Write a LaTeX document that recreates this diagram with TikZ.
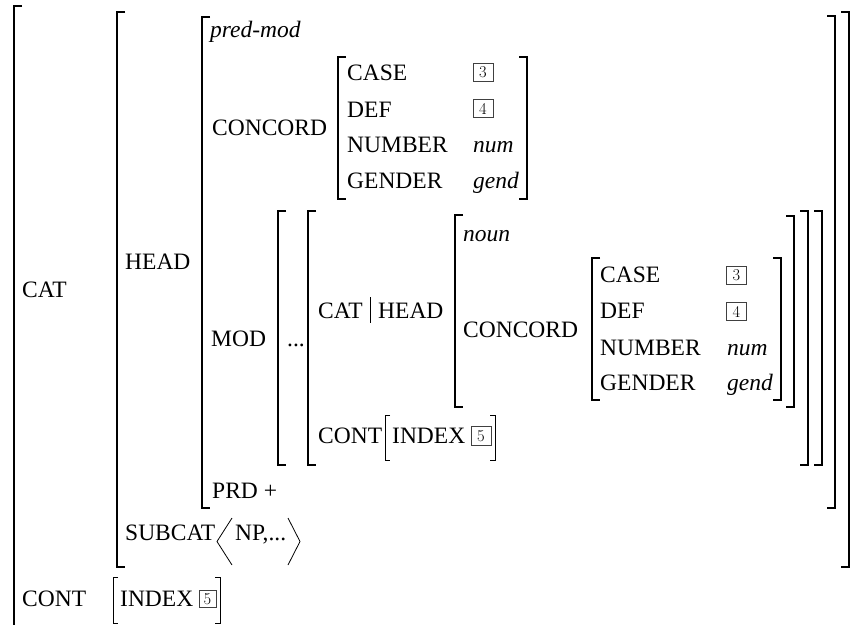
\documentclass[tikz,border=0pt]{standalone}
\usepackage{fontspec}
\newfontfamily\tms{Liberation Serif}
\begin{document}
\begin{tikzpicture}[x=1pt,y=-1pt,
  lbl/.style={font=\tms\fontsize{23.5}{28}\selectfont, inner sep=0pt, anchor=base west},
  itl/.style={lbl, font=\tms\itshape\fontsize{23.5}{28}\selectfont},
  tag/.style={draw=black!75, line width=1pt, inner sep=0pt, minimum width=20pt, minimum height=18.5pt, font=\rmfamily\fontsize{16.5}{16.5}\selectfont},
  brk/.style={line width=1.6pt},
  tbrk/.style={line width=0.9pt},
  ang/.style={line width=0.8pt}]
\useasboundingbox (0,0) rectangle (853,625);
% brackets
\draw[brk] (22,6) -- (14,6) -- (14,625);
\draw[brk] (125,12) -- (117,12) -- (117,567) -- (125,567);
\draw[brk] (841,12) -- (849,12) -- (849,567) -- (841,567);
\draw[brk] (210,17) -- (202,17) -- (202,508) -- (210,508);
\draw[brk] (827,16) -- (835,16) -- (835,508) -- (827,508);
\draw[brk] (346,57) -- (338,57) -- (338,199) -- (346,199);
\draw[brk] (519,57) -- (527,57) -- (527,199) -- (519,199);
\draw[brk] (286,211) -- (278,211) -- (278,465) -- (286,465);
\draw[brk] (814,211) -- (822,211) -- (822,465) -- (814,465);
\draw[brk] (316,211) -- (308,211) -- (308,465) -- (316,465);
\draw[brk] (800,211) -- (808,211) -- (808,465) -- (800,465);
\draw[brk] (463,215) -- (455,215) -- (455,407) -- (463,407);
\draw[brk] (786,216) -- (794,216) -- (794,407) -- (786,407);
\draw[brk] (600,258) -- (592,258) -- (592,400) -- (600,400);
\draw[brk] (773,258) -- (781,258) -- (781,400) -- (773,400);
\draw[tbrk] (390,415) -- (385,415) -- (385,460) -- (390,460);
\draw[tbrk] (490,415) -- (495,415) -- (495,460) -- (490,460);
\draw[tbrk] (118,577) -- (113,577) -- (113,623) -- (118,623);
\draw[tbrk] (215,577) -- (220,577) -- (220,623) -- (215,623);
% top level
\node[lbl] (cat) at (22,297) {CAT};
\node[lbl] (cont) at (22,606) {CONT};
\node[lbl] (index2) at (120,606) {INDEX};
\node[tag, minimum width=17pt, minimum height=16.5pt] (t5b) at (207.5,599) {5};
% CAT value
\node[lbl] (head) at (125,269) {HEAD};
\node[lbl] (subcat) at (125,540) {SUBCAT};
\node[lbl] (np) at (235,540) {NP,...};
\draw[ang] (232,518) -- (217,541.5) -- (232,565);
\draw[ang] (288,518) -- (300,541.5) -- (288,565);
% HEAD value
\node[itl] (predmod) at (210,37) {pred-mod};
\node[lbl] (concord1) at (212,135) {CONCORD};
\node[lbl] (case1) at (347,80) {CASE};
\node[lbl] (def1) at (347,117) {DEF};
\node[lbl] (number1) at (347,152) {NUMBER};
\node[lbl] (gender1) at (347,188) {GENDER};
\node[tag] (t3a) at (483,72.5) {3};
\node[tag] (t4a) at (483,108.5) {4};
\node[itl] (num1) at (473,152) {num};
\node[itl] (gend1) at (473,188) {gend};
\node[lbl] (mod) at (211,346) {MOD};
\node[lbl] (dots) at (287,346) {...};
\node[lbl] (prd) at (212,498) {PRD +};
% MOD value
\node[lbl] (cat2) at (318,318) {CAT};
\draw[line width=0.8pt] (370,297) -- (370,323);
\node[lbl] (head2) at (378,318) {HEAD};
\node[itl] (noun) at (463,241) {noun};
\node[lbl] (concord2) at (463,337) {CONCORD};
\node[lbl] (case2) at (600,282) {CASE};
\node[lbl] (def2) at (600,318) {DEF};
\node[lbl] (number2) at (600,355) {NUMBER};
\node[lbl] (gender2) at (600,390) {GENDER};
\node[tag] (t3b) at (736.5,275.5) {3};
\node[tag] (t4b) at (736.5,311.5) {4};
\node[itl] (num2) at (727,355) {num};
\node[itl] (gend2) at (727,390) {gend};
\node[lbl] (cont2) at (318,443) {CONT};
\node[lbl] (index1) at (392,443) {INDEX};
\node[tag] (t5a) at (481,436) {5};
\end{tikzpicture}
\end{document}
